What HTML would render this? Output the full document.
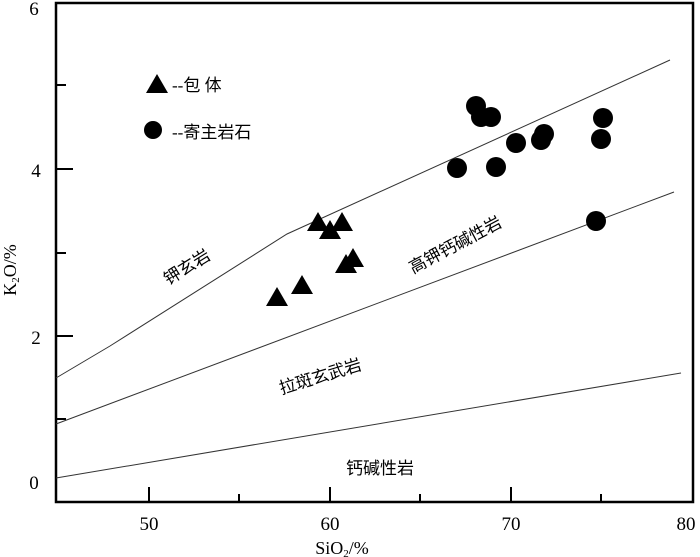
<!DOCTYPE html>
<html><head><meta charset="utf-8"><style>body{margin:0;background:#fff}svg{display:block}</style></head>
<body>
<svg width="700" height="557" xmlns="http://www.w3.org/2000/svg" font-family="'Liberation Serif','Noto Sans CJK SC',serif">
<rect x="56" y="3" width="637" height="499" fill="none" stroke="#000" stroke-width="2.5"/>
<g stroke="#000" stroke-width="2">
<line x1="149" y1="502" x2="149" y2="487"/><line x1="330" y1="502" x2="330" y2="487"/><line x1="511" y1="502" x2="511" y2="487"/>
<line x1="239" y1="502" x2="239" y2="494"/><line x1="420" y1="502" x2="420" y2="494"/><line x1="601" y1="502" x2="601" y2="494"/>
<line x1="56" y1="85" x2="66" y2="85"/><line x1="56" y1="169" x2="73" y2="169"/><line x1="56" y1="253" x2="66" y2="253"/>
<line x1="56" y1="336" x2="73" y2="336"/><line x1="56" y1="419" x2="66" y2="419"/>
</g>
<g stroke="#333" stroke-width="1" fill="none">
<polyline points="56,378 110,346 287,234 670,60"/>
<line x1="56" y1="424" x2="674" y2="192"/>
<line x1="56" y1="478" x2="681" y2="373"/>
</g>
<g font-size="19" text-anchor="middle">
<text x="149" y="530">50</text><text x="330" y="530">60</text><text x="511" y="530">70</text><text x="686" y="530">80</text>
<text x="34" y="15">6</text><text x="36" y="177">4</text><text x="36" y="344">2</text><text x="34" y="489">0</text>
<text x="342" y="554" font-size="18">SiO<tspan font-size="11" dy="3">2</tspan><tspan dy="-3">/%</tspan></text>
<text transform="translate(16,270) rotate(-90)" font-size="18">K<tspan font-size="11" dy="3">2</tspan><tspan dy="-3">O/%</tspan></text>
</g>
<g font-size="17" fill="#000">
<polygon points="146,93 168,93 157,74"/><text x="172" y="91">--包 体</text>
<circle cx="153" cy="130" r="9"/><text x="172" y="138">--寄主岩石</text>
<text transform="translate(190,272) rotate(-32)" text-anchor="middle">钾玄岩</text>
<text transform="translate(458,250) rotate(-28)" text-anchor="middle">高钾钙碱性岩</text>
<text transform="translate(322,382) rotate(-17)" text-anchor="middle">拉斑玄武岩</text>
<text x="380" y="474" text-anchor="middle">钙碱性岩</text>
</g>
<g fill="#000">
<polygon points="266,306 288,306 277,287"/><polygon points="291,294 313,294 302,275"/>
<polygon points="307,231 329,231 318,212"/><polygon points="319,239 341,239 330,220"/>
<polygon points="331,231 353,231 342,212"/><polygon points="335,273 357,273 346,254"/>
<polygon points="342,267 364,267 353,248"/>
<circle cx="457" cy="168" r="10"/><circle cx="476" cy="106" r="10"/><circle cx="481" cy="117" r="10"/>
<circle cx="491" cy="117" r="10"/><circle cx="496" cy="167" r="10"/><circle cx="516" cy="143" r="10"/>
<circle cx="541" cy="140" r="10"/><circle cx="544" cy="134" r="10"/><circle cx="603" cy="118" r="10"/>
<circle cx="601" cy="139" r="10"/><circle cx="596" cy="221" r="10"/>
</g>
</svg>
</body></html>
